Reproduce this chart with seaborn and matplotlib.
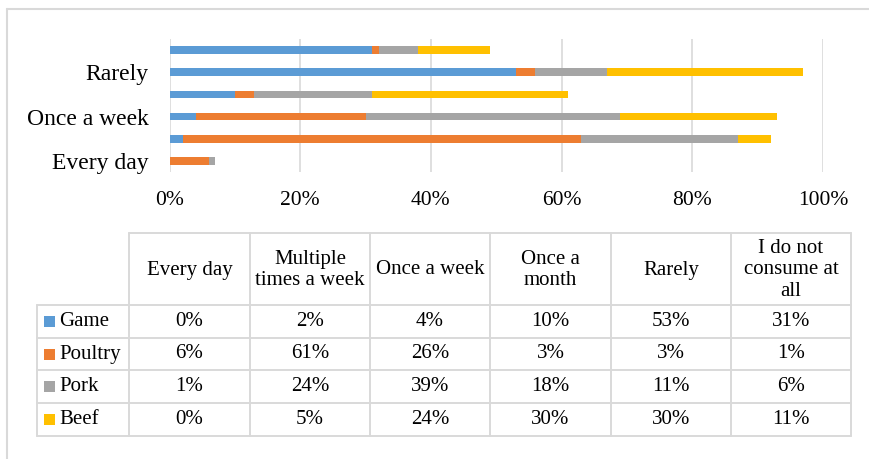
import numpy as np
import pandas as pd
import matplotlib
matplotlib.use("Agg")
import matplotlib.pyplot as plt
import seaborn as sns

categories = ["Every day", "Multiple times a week", "Once a week",
              "Once a month", "Rarely", "I do not consume at all"]
header_labels = ["Every day", "Multiple\ntimes a week", "Once a week",
                 "Once a\nmonth", "Rarely", "I do not\nconsume at\nall"]
series_names = ["Game", "Poultry", "Pork", "Beef"]
game = [0, 2, 4, 10, 53, 31]
poultry = [6, 61, 26, 3, 3, 1]
pork = [1, 24, 39, 18, 11, 6]
beef = [0, 5, 24, 30, 30, 11]
shown_ylabels = ["Every day", "Once a week", "Rarely"]
xticks = [0, 20, 40, 60, 80, 100]

colors = ["#5B9BD5", "#ED7D31", "#A5A5A5", "#FFC000"]
grid_col = "#D9D9D9"

sns.set_theme(style="white")
plt.rcParams['font.family'] = ['Liberation Serif', 'DejaVu Serif']

W, H = 869, 459
fig = plt.figure(figsize=(W / 100, H / 100), dpi=100)

# chart area (pixel coordinates converted to figure fractions)
x0, x1, ytop, ybot = 169.5, 823, 39, 172
ax = fig.add_axes([x0 / W, 1 - ybot / H, (x1 - x0) / W, (ybot - ytop) / H])

df = pd.DataFrame({"category": categories, "Game": game, "Poultry": poultry,
                   "Pork": pork, "Beef": beef})
cum = df[series_names].cumsum(axis=1)
order = list(reversed(categories))

# stacked bars: draw the running totals from the longest to the shortest
for name, col in reversed(list(zip(series_names, colors))):
    sns.barplot(x=cum[name], y=df["category"], order=order, color=col,
                width=0.35, linewidth=0, saturation=1, ax=ax)

ax.set_xlim(0, 100)
ax.set_ylim(5.5, -0.5)
ax.set_xticks(xticks)
ax.set_xticklabels([f"{t}%" for t in xticks], fontsize=15.5, color="black")
ax.set_yticks(range(len(order)))
ax.set_yticklabels([c if c in shown_ylabels else "" for c in order],
                   fontsize=17, color="black")
ax.tick_params(axis="x", length=0, pad=14)
ax.tick_params(axis="y", length=0, pad=15)
ax.xaxis.grid(True, color=grid_col, lw=1.2)
ax.set_axisbelow(True)
for s in ax.spines.values():
    s.set_visible(False)
ax.set_xlabel("")
ax.set_ylabel("")

# data table below the chart, in pixel coordinates
tax = fig.add_axes([0, 0, 1, 1])
tax.set_xlim(0, W)
tax.set_ylim(H, 0)
tax.axis("off")

# outer chart frame (cut off at right / bottom)
tax.plot([7, 7], [9, H], color=grid_col, lw=1.5)
tax.plot([7, W], [9, 9], color=grid_col, lw=1.5)

col_x = [37, 129, 250, 370, 490, 611, 731, 851]
row_y = [233, 305, 338, 370, 403, 436]
lw = 1.4
# horizontal lines
tax.plot([col_x[1], col_x[-1]], [row_y[0]] * 2, color=grid_col, lw=lw)
for y in row_y[1:]:
    tax.plot([col_x[0], col_x[-1]], [y, y], color=grid_col, lw=lw)
# vertical lines
tax.plot([col_x[0]] * 2, [row_y[1], row_y[-1]], color=grid_col, lw=lw)
for x in col_x[1:]:
    tax.plot([x, x], [row_y[0], row_y[-1]], color=grid_col, lw=lw)

# header
for j, lab in enumerate(header_labels):
    cx = (col_x[j + 1] + col_x[j + 2]) / 2
    tax.text(cx, (row_y[0] + row_y[1]) / 2 + 1, lab, ha="center", va="center",
             fontsize=15, color="black", linespacing=1.15)

# body rows
table_vals = [game, poultry, pork, beef]
for i, (name, col, vals) in enumerate(zip(series_names, colors, table_vals)):
    cy = (row_y[i + 1] + row_y[i + 2]) / 2
    tax.add_patch(plt.Rectangle((44, cy - 5.5), 11, 11, color=col, lw=0))
    tax.text(59, cy, name, ha="left", va="center", fontsize=15, color="black")
    for j, v in enumerate(vals):
        cx = (col_x[j + 1] + col_x[j + 2]) / 2
        tax.text(cx, cy, f"{v}%", ha="center", va="center", fontsize=15,
                 color="black")

fig.savefig("out.png", dpi=100, facecolor="white")
